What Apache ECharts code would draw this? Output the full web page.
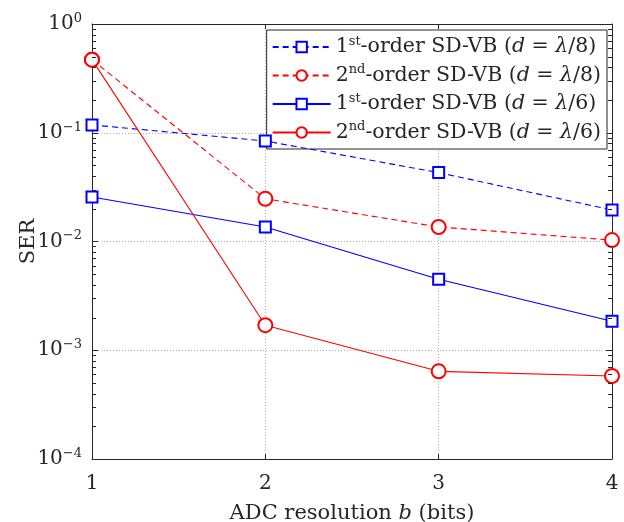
<!DOCTYPE html>
<html>
<head>
<meta charset="utf-8">
<script src="https://cdn.jsdelivr.net/npm/echarts@6/dist/echarts.min.js"></script>
<style>
  html, body { margin: 0; padding: 0; background: #fff; }
  #chart { width: 624px; height: 522px; }
</style>
</head>
<body>
<div id="chart"></div>
<script>
// ADC resolution (bits)
var bits = [1, 2, 3, 4];
// SER values
var ser1stL8 = [0.118, 0.084, 0.043, 0.0195];
var ser2ndL8 = [0.47, 0.0247, 0.0136, 0.0103];
var ser1stL6 = [0.0257, 0.0136, 0.0045, 0.00185];
var ser2ndL6 = [0.47, 0.0017, 0.00064, 0.00058];
var seriesNames = ['s1', 's2', 's3', 's4'];
var legendLabels = {
  s1: '1{sup|st}-order SD-VB ({i|d} = {i|λ}/8)',
  s2: '2{sup|nd}-order SD-VB ({i|d} = {i|λ}/8)',
  s3: '1{sup|st}-order SD-VB ({i|d} = {i|λ}/6)',
  s4: '2{sup|nd}-order SD-VB ({i|d} = {i|λ}/6)'
};
// log-axis minor ticks (2..9 x 10^k)
var minorVals = [];
[-4, -3, -2, -1].forEach(function (k) {
  for (var m = 2; m <= 9; m++) minorVals.push(m * Math.pow(10, k));
});

var FONT = 'DejaVu Serif';
var INK = '#262626';
var chart = echarts.init(document.getElementById('chart'));

function pairs(ys) {
  return bits.map(function (x, i) { return [x, ys[i]]; });
}

function lineSeries(name, ys, color, dashed, symbol, size) {
  return {
    name: name,
    type: 'line',
    data: pairs(ys),
    symbol: symbol,
    symbolSize: size,
    showAllSymbol: true,
    color: color,
    lineStyle: { color: color, width: 1.1, type: dashed ? [6, 4] : 'solid' },
    itemStyle: { color: color, borderColor: color, borderWidth: 1.2 },
    emphasis: { disabled: true },
    z: 5
  };
}

var option = {
  animation: false,
  backgroundColor: '#fff',
  grid: { left: 92, right: 12, top: 24, bottom: 63, containLabel: false, outerBoundsMode: 'none' },
  legend: {
    data: seriesNames,
    right: 17,
    top: 30,
    orient: 'vertical',
    itemWidth: 58,
    itemHeight: 13,
    itemGap: 6,
    padding: [5, 6, 6, 5],
    borderColor: INK,
    borderWidth: 1,
    backgroundColor: '#fff',
    formatter: function (n) { return legendLabels[n]; },
    textStyle: {
      fontFamily: FONT, fontSize: 20.5, color: INK,
      rich: {
        sup: { fontSize: 13, verticalAlign: 'top', padding: [0, 0, 11, 0], fontFamily: FONT, color: INK },
        i: { fontStyle: 'italic', fontSize: 20.5, fontFamily: FONT, color: INK }
      }
    }
  },
  xAxis: [{
    type: 'value',
    min: 1, max: 4, interval: 1,
    name: 'ADC resolution {i|b} (bits)',
    nameLocation: 'middle',
    nameGap: 44,
    nameTextStyle: {
      fontFamily: FONT, fontSize: 21, color: INK,
      rich: { i: { fontStyle: 'italic', fontFamily: FONT, fontSize: 21, color: INK } }
    },
    axisLine: { lineStyle: { color: INK, width: 1 } },
    axisTick: { inside: true, length: 5, lineStyle: { color: INK } },
    axisLabel: { fontFamily: FONT, fontSize: 20, color: INK, margin: 15 },
    splitLine: { show: true, lineStyle: { color: '#b0b0b0', type: [1, 2], width: 1 } }
  }, {
    type: 'value',
    position: 'top',
    min: 1, max: 4, interval: 1,
    axisLine: { show: true, onZero: false, lineStyle: { color: INK, width: 1 } },
    axisTick: { show: true, inside: true, length: 5, lineStyle: { color: INK } },
    axisLabel: { show: false },
    splitLine: { show: false }
  }],
  yAxis: [{
    type: 'log',
    logBase: 10,
    min: 1e-4, max: 1,
    name: 'SER',
    nameLocation: 'middle',
    nameGap: 53,
    nameMoveOverlap: false,
    nameTextStyle: { fontFamily: FONT, fontSize: 21, color: INK },
    axisLine: { show: true, lineStyle: { color: INK, width: 1 } },
    axisTick: { show: true, inside: true, length: 6, lineStyle: { color: INK } },
    axisLabel: {
      fontFamily: FONT, fontSize: 20, color: INK, margin: 10,
      formatter: function (v) {
        var e = Math.round(Math.log10(v));
        return '10{sup|' + (e < 0 ? '−' + (-e) : e) + '}';
      },
      rich: {
        sup: { fontSize: 13, verticalAlign: 'top', padding: [0, 0, 11, 0], fontFamily: FONT, color: INK }
      }
    },
    splitLine: { show: true, lineStyle: { color: '#b0b0b0', type: [1, 2], width: 1 } }
  }, {
    type: 'log',
    logBase: 10,
    min: 1e-4, max: 1,
    position: 'right',
    axisLine: { show: true, onZero: false, lineStyle: { color: INK, width: 1 } },
    axisTick: { show: true, inside: true, length: 6, lineStyle: { color: INK } },
    axisLabel: { show: false },
    splitLine: { show: false }
  }],
  series: [
    lineSeries('s1', ser1stL8, '#0000ff', true, 'emptyRect', 11),
    lineSeries('s2', ser2ndL8, '#ff0000', true, 'emptyCircle', 14),
    lineSeries('s3', ser1stL6, '#0000ff', false, 'emptyRect', 11),
    lineSeries('s4', ser2ndL6, '#ff0000', false, 'emptyCircle', 14)
  ]
};

chart.setOption(option);

// minor ticks on the log axis, placed through the axis scale
var xl = chart.convertToPixel({ xAxisIndex: 0 }, 1);
var xr = chart.convertToPixel({ xAxisIndex: 0 }, 4);
var minorLines = [];
minorVals.forEach(function (v) {
  var y = Math.round(chart.convertToPixel({ yAxisIndex: 0 }, v)) + 0.5;
  minorLines.push({ type: 'line', silent: true, z: 10,
    shape: { x1: xl, y1: y, x2: xl + 4, y2: y }, style: { stroke: INK, lineWidth: 1 } });
  minorLines.push({ type: 'line', silent: true, z: 10,
    shape: { x1: xr, y1: y, x2: xr - 4, y2: y }, style: { stroke: INK, lineWidth: 1 } });
});
chart.setOption({ graphic: minorLines });
</script>
</body>
</html>
